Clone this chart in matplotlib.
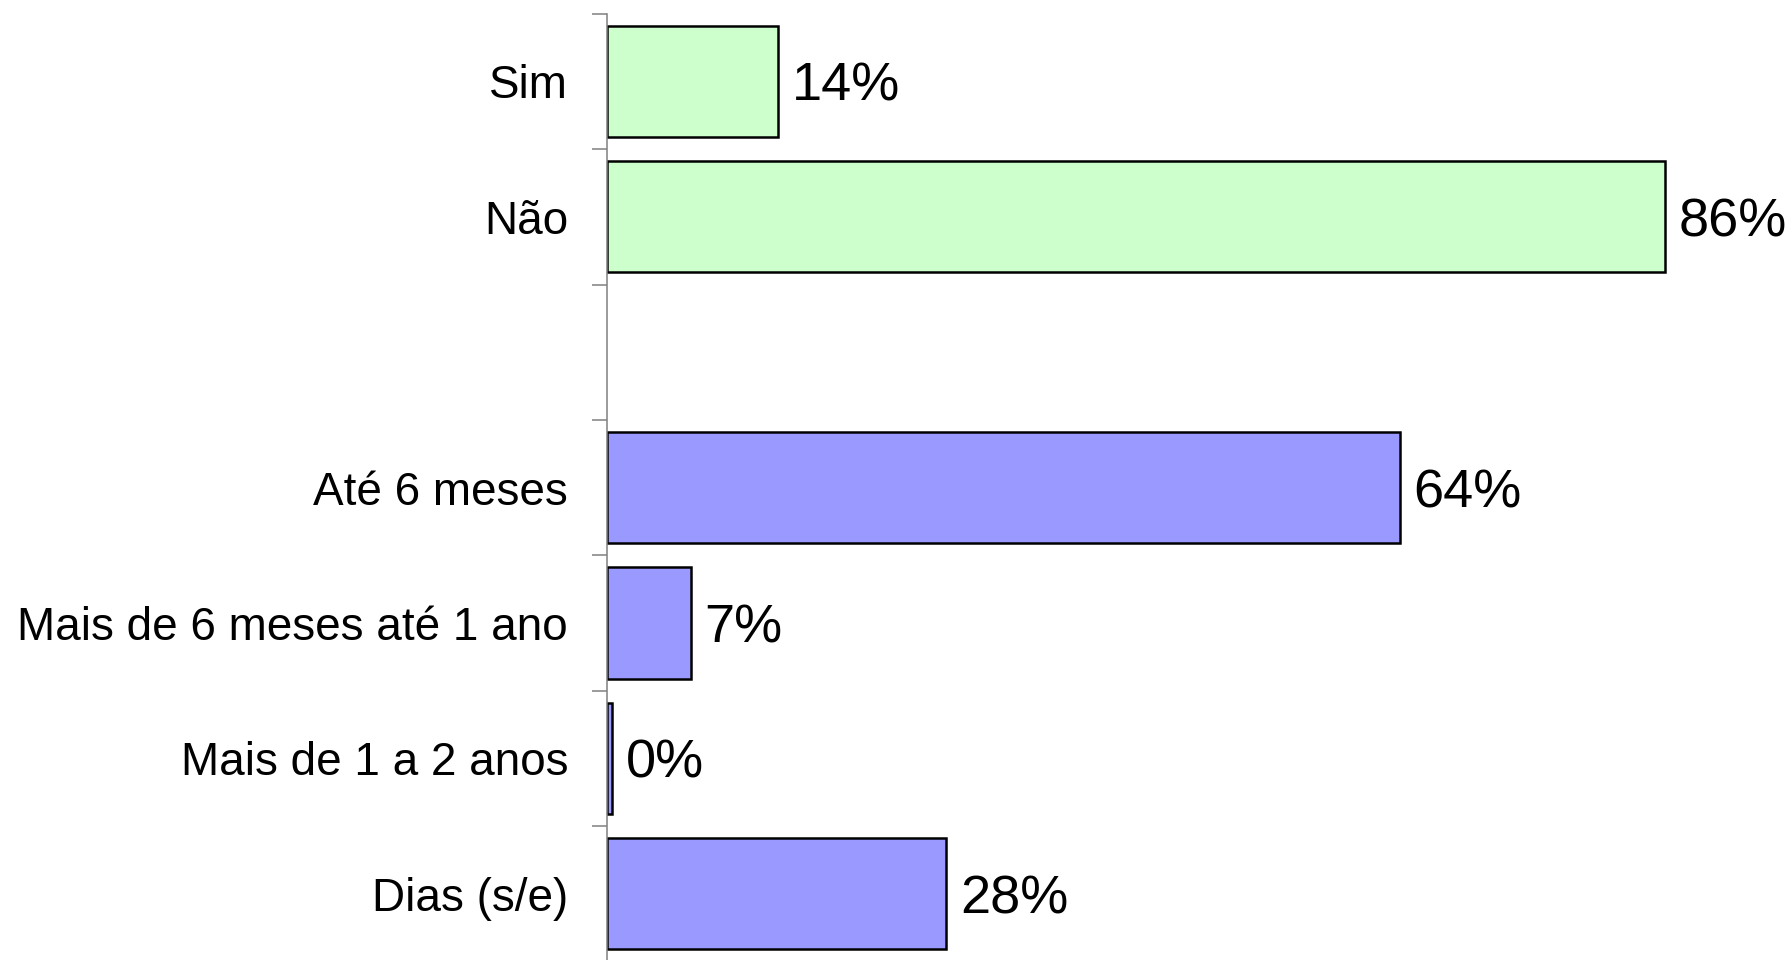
import numpy as np
import matplotlib.pyplot as plt

plt.rcParams['font.family'] = ['Liberation Sans', 'DejaVu Sans']

# first question: yes / no
answer_labels = ['Sim', 'Não']
answer_pct = [13.9, 86.1]

# second question: time ranges
period_labels = ['Até 6 meses', 'Mais de 6 meses até 1 ano', 'Mais de 1 a 2 anos', 'Dias (s/e)']
period_pct = [64.5, 6.8, 0.4, 27.6]

# one empty slot between the two groups
labels = answer_labels + [''] + period_labels
pos_answer = np.arange(len(answer_labels))
pos_period = np.arange(len(period_labels)) + len(answer_labels) + 1

fig = plt.figure(figsize=(17.92, 9.6), dpi=100)
ax = fig.add_axes([607 / 1792, -1.5 / 960, (1836 - 607) / 1792, (960 - 13.7 + 1.5) / 960])

ax.barh(pos_answer, answer_pct, height=0.82, color='#CCFFCC', edgecolor='black', linewidth=1.8)
ax.barh(pos_period, period_pct, height=0.82, color='#9999FF', edgecolor='black', linewidth=1.8)

for y, v in list(zip(pos_answer, answer_pct)) + list(zip(pos_period, period_pct)):
    ax.annotate(f'{v:.0f}%', xy=(v, y), xytext=(10, 0), textcoords='offset points',
                va='center_baseline', ha='left', fontsize=39, annotation_clip=False)

ax.set_xlim(0, 100)
ax.set_ylim(len(labels) - 0.5, -0.5)

# category names at slot centres, tick marks at slot boundaries
ax.set_yticks(np.arange(len(labels)))
ax.set_yticklabels(labels, fontsize=33, va='center_baseline')
ax.tick_params(axis='y', which='major', length=0, pad=28)
ax.set_yticks(np.arange(len(labels) + 1) - 0.5, minor=True)
ax.tick_params(axis='y', which='minor', length=11, width=1.1, color='#808080')
ax.set_xticks([])

for side in ['top', 'right', 'bottom']:
    ax.spines[side].set_visible(False)
ax.spines['left'].set_color('#808080')
ax.spines['left'].set_linewidth(1.1)

fig.savefig('out.png', dpi=100)
